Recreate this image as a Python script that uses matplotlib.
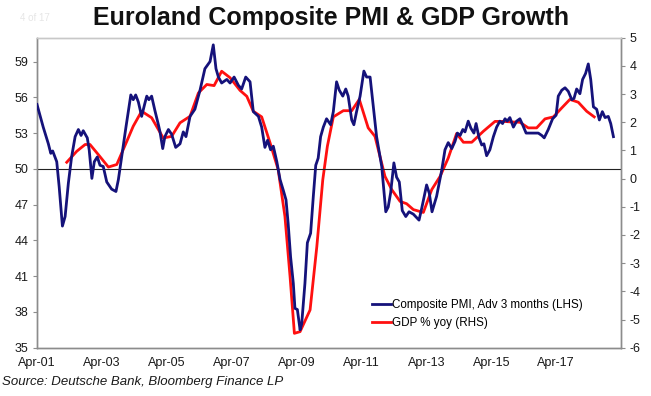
import matplotlib
matplotlib.use("Agg")
import matplotlib.pyplot as plt
from matplotlib.lines import Line2D

plt.rcParams['font.family'] = ['Liberation Sans', 'DejaVu Sans']

title = "Euroland Composite PMI & GDP Growth"
source = "Source: Deutsche Bank, Bloomberg Finance LP"
pmi_label = "Composite PMI, Adv 3 months (LHS)"
gdp_label = "GDP % yoy (RHS)"

# months since Apr-2001
pmi_month = [0, 2.3, 4.2, 5.1, 5.8, 7.3, 8.2, 9.4, 10.4, 11.6, 12.8, 14.1, 15.3, 16.3, 17.1,
             18.6, 19.3, 20.3, 21.2, 22.3, 23.3, 24.5, 25.8, 27.6, 29.2, 30.1, 31.3, 32.9,
             34.7, 35.6, 36.5, 37.5, 38.7, 39.9, 40.6, 41.4, 42.4, 43.6, 44.9, 45.5, 46.5,
             47.3, 48.6, 49.8, 51.3, 52.9, 54.1, 55.1, 56.6, 58.4, 60.3, 62.1, 64.0, 65.2,
             66.2, 67.1, 68.3, 70.2, 71.4, 72.9, 74.5, 75.7, 77.2, 78.8, 80.0, 81.9, 83.1,
             84.3, 85.3, 86.4, 87.4, 88.7, 89.9, 91.1, 92.1, 92.9, 93.8, 94.8, 95.4, 96.3,
             97.3, 97.9, 99.1, 100.0, 101.2, 102.2, 103.1, 104.0, 104.9, 105.9, 107.1, 108.6,
             109.6, 110.8, 111.8, 113.1, 114.2, 115.1, 116.4, 117.2, 118.2, 119.5, 120.9,
             121.9, 123.2, 124.4, 125.6, 127.5, 129.0, 129.9, 130.8, 132.0, 133.0, 134.0,
             135.1, 136.4, 137.6, 139.2, 141.3, 142.3, 144.1, 145.1, 146.1, 147.8, 149.7,
             150.9, 152.1, 153.4, 154.6, 155.5, 156.5, 157.5, 158.3, 159.5, 160.5, 161.6,
             162.4, 163.5, 164.5, 165.3, 166.3, 167.5, 168.8, 170.0, 171.2, 172.2, 173.1,
             173.9, 174.9, 176.2, 177.4, 178.6, 179.6, 180.9, 182.3, 184.2, 185.4, 186.7,
             187.6, 189.1, 190.7, 192.0, 192.8, 194.1, 195.3, 196.5, 197.8, 198.6, 199.6,
             200.8, 201.8, 202.9, 203.9, 204.8, 205.8, 207.0, 208.0, 209.1, 210.1, 211.3,
             212.2, 213.2]
pmi_value = [55.4, 53.5, 52.1, 51.3, 51.5, 50.6, 48.5, 45.2, 46.0, 48.8, 51.0, 52.7, 53.3, 52.8, 53.2,
             52.6, 51.6, 49.2, 50.6, 51.0, 50.3, 50.2, 48.9, 48.3, 48.1, 49.1, 51.0, 53.5,
             56.2, 55.8, 56.2, 55.6, 54.4, 55.5, 56.1, 55.8, 56.1, 54.9, 53.7, 53.1, 51.7,
             52.7, 53.3, 52.9, 51.8, 52.1, 53.1, 52.7, 54.4, 55.0, 56.6, 58.4, 59.0, 60.4,
             58.4, 57.7, 57.2, 57.5, 57.2, 57.7, 57.0, 56.7, 57.7, 57.3, 54.8, 54.4, 53.5,
             51.8, 52.4, 51.6, 51.9, 50.6, 49.1, 48.2, 47.4, 45.4, 42.6, 40.4, 38.3, 38.2,
             36.5, 37.0, 40.4, 43.8, 44.6, 47.7, 50.3, 50.9, 52.7, 53.5, 54.2, 53.7,
             54.8, 57.3, 56.6, 56.1, 56.7, 56.1, 54.1, 53.7, 54.8, 56.1, 58.2,
             57.7, 57.7, 55.2, 52.7, 50.2, 46.4, 46.8, 48.0, 50.5, 49.3, 48.9,
             46.5, 46.0, 46.4, 46.2, 45.7, 46.7, 48.65, 47.95, 46.4, 47.7, 49.9,
             51.6, 52.2, 51.7, 52.3, 53.0, 52.8, 53.3, 53.1, 54.0, 53.4, 53.0,
             53.8, 52.6, 52.0, 52.1, 51.1, 51.6, 52.7, 53.5, 54.0, 53.8, 54.2,
             54.0, 54.3, 53.5, 54.0, 54.2, 53.7, 53.0, 53.0, 53.0, 53.0, 52.8,
             52.6, 53.3, 54.2, 54.5, 56.1, 56.6, 56.8, 56.5, 55.8, 55.9, 56.7,
             56.3, 57.5, 58.0, 58.8, 57.5, 55.2, 55.0, 54.1, 54.8, 54.3, 54.4,
             53.8, 52.7]

gdp_month = [11.0, 14.7, 17.8, 19.6, 22.7, 26.4, 29.5, 33.2, 35.6, 38.7, 42.4, 46.7, 49.8, 52.9,
             56.6, 59.7, 62.8, 65.5, 68.3, 71.4, 75.1, 77.6, 80.0, 83.1, 86.2, 89.2, 91.7,
             93.6, 95.2, 97.3, 101.0, 103.5, 105.7, 107.4, 109.6, 113.3, 116.4, 119.2, 122.5,
             125.0, 128.7, 131.2, 134.3, 136.7, 139.2, 142.9, 146.0, 149.1, 152.1, 155.2,
             157.7, 160.8, 165.1, 169.4, 172.5, 175.6, 178.6, 181.7, 184.8, 187.9, 191.0,
             194.1, 197.1, 200.2, 203.3, 206.1]
gdp_value = [0.58, 0.97, 1.21, 1.21, 0.85, 0.41, 0.50, 1.32, 1.86, 2.39, 2.16, 1.44, 1.50, 1.98,
             2.21, 3.04, 3.34, 3.30, 3.81, 3.58, 3.13, 2.92, 2.39, 2.19, 1.27, 0.32, -1.34,
             -3.48, -5.49, -5.43, -4.66, -2.41, -0.04, 1.15, 2.19, 2.41, 2.41, 2.81, 1.80,
             1.50, 0.08, -0.39, -0.81, -0.89, -1.10, -1.20, -0.39, 0.08, 0.73, 1.60,
             1.29, 1.29, 1.68, 2.03, 2.03, 2.01, 2.00, 1.80, 1.80, 2.12, 2.19,
             2.51, 2.81, 2.71, 2.39, 2.19]

xtick_month = [0, 24, 48, 72, 96, 120, 144, 168, 192]
xtick_labels = ["Apr-01", "Apr-03", "Apr-05", "Apr-07", "Apr-09", "Apr-11", "Apr-13", "Apr-15", "Apr-17"]
left_ticks = [35, 38, 41, 44, 47, 50, 53, 56, 59]
right_ticks = [-6, -5, -4, -3, -2, -1, 0, 1, 2, 3, 4, 5]

navy = "#15127a"
red = "#ff1010"

fig = plt.figure(figsize=(6.51, 3.96), dpi=100)
ax = fig.add_axes([37/651, 1-347.7/396, 584/651, 310/396])
ax2 = ax.twinx()

ax.set_xlim(0, 216)
ax.set_ylim(35, 61)
ax2.set_ylim(-6, 5)

ax.axhline(50, color="#222222", lw=0.8, zorder=1)
ax.plot(pmi_month, pmi_value, color=navy, lw=2.0, zorder=3)
ax2.plot(gdp_month, gdp_value, color=red, lw=2.0, zorder=4)
ax.set_zorder(ax2.get_zorder() + 1)
ax.patch.set_visible(False)

ax.set_yticks(left_ticks)
ax.set_yticklabels([str(t) for t in left_ticks])
ax2.set_yticks(right_ticks)
ax2.set_yticklabels([str(t) for t in right_ticks])
ax.set_xticks(xtick_month)
ax.set_xticklabels(xtick_labels)

for a in (ax, ax2):
    for s in a.spines.values():
        s.set_color("#8c8c8c")
        s.set_linewidth(1.0)
    a.spines['top'].set_color("#c8c8c8")
ax.tick_params(axis='y', length=3, width=0.8, color="#8c8c8c", labelsize=9, pad=3, labelcolor="#1a1a1a")
ax2.tick_params(axis='y', length=3, width=0.8, color="#8c8c8c", labelsize=9, pad=3, labelcolor="#1a1a1a")
ax.tick_params(axis='x', length=0, labelsize=9, pad=7, labelcolor="#1a1a1a")

handles = [Line2D([], [], color=navy, lw=2.0), Line2D([], [], color=red, lw=2.0)]
ax.legend(handles, [pmi_label, gdp_label], loc="lower left", bbox_to_anchor=(0.566, 0.045),
          frameon=False, fontsize=8.4, handlelength=1.6, handletextpad=0.1, labelspacing=0.5,
          borderaxespad=0)

fig.text(0.508, 0.955, title, ha="center", va="center", fontsize=18, fontweight="bold", color="#111111")
fig.text(0.03, 0.955, "4 of 17", ha="left", va="center", fontsize=7, color="#e6e6e6")
fig.text(0.003, 0.035, source, ha="left", va="center", fontsize=9.5, style="italic", color="#1a1a1a")

fig.savefig("out.png", dpi=100)
